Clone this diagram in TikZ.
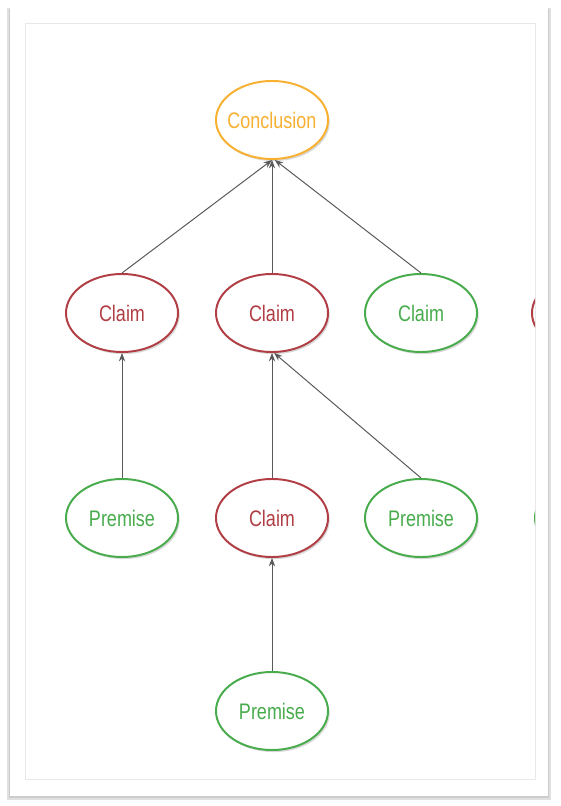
\documentclass[tikz,border=0pt]{standalone}
\usepackage{fontspec}
\setmainfont{Liberation Sans}[FakeStretch=0.8]
\usetikzlibrary{arrows.meta, positioning, shapes.geometric, shadows}
\definecolor{concorange}{RGB}{247,176,48}
\definecolor{claimred}{RGB}{176,62,68}
\definecolor{premgreen}{RGB}{72,172,76}
\definecolor{framegrey}{RGB}{232,232,232}

\begin{document}
\begin{tikzpicture}[x=0.025cm, y=-0.025cm,
        bubble/.style={ellipse, draw, line width=1.4pt, fill=white, minimum width=2.8cm, minimum height=1.95cm,
            inner ysep=0pt, inner xsep=-4pt, font=\fontsize{16}{19}\selectfont,
            drop shadow={shadow xshift=1.2pt, shadow yshift=-1.5pt, opacity=0.3}},
        conc/.style={bubble, draw=concorange, text=concorange},
        claim/.style={bubble, draw=claimred, text=claimred},
        prem/.style={bubble, draw=premgreen, text=premgreen},
        link/.style={-{Stealth[length=6pt, width=4.5pt]}, draw=black!65, line width=0.7pt},
    ]
        \useasboundingbox (0,0) rectangle (560,806);
        % card with shadow
        \fill[black!12] (7,8) rectangle (551,800);
        \fill[black!20] (9,9) rectangle (549,798);
        \fill[white] (10,8) rectangle (548,796);
        \draw[framegrey, line width=0.6pt] (25,23) rectangle (535,779);

        \begin{scope}
            \clip (25,23) rectangle (535,779);
            % top level
            \node[conc] (conc) at (272,120) {Conclusion};

            % claims
            \node[claim] (c1) at (122,313) {Claim};
            \node[claim] (c2) at (272,313) {Claim};
            \node[prem] (c3) at (421,313) {Claim};
            \node[claim] (c4) at (588,313) {};

            % premises and sub claim
            \node[prem] (p1) at (122,518) {Premise};
            \node[claim] (c5) at (272,518) {Claim};
            \node[prem] (p3) at (421,518) {Premise};
            \node[prem] (p4) at (591,518) {};

            \node[prem] (p5) at (272,711) {Premise};
        \end{scope}

        \draw[link] (c1.north) -- (conc.south);
        \draw[link] (c2.north) -- (conc.south);
        \draw[link] (c3.north) -- (conc.-86);
        \draw[link] (p1.north) -- (c1.south);
        \draw[link] (c5.north) -- (c2.south);
        \draw[link] (p3.north) -- (c2.-87);
        \draw[link] (p5.north) -- (c5.south);
    \end{tikzpicture}
\end{document}
